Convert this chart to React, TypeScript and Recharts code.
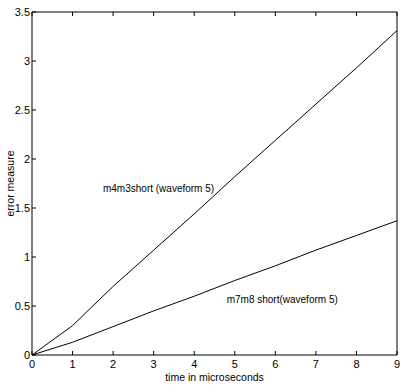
import React from 'react';
import { LineChart, Line, XAxis, YAxis, ReferenceDot } from 'recharts';

const times = [0, 1, 2, 3, 4, 5, 6, 7, 8, 9];
const m4m3short = [0, 0.3, 0.7, 1.07, 1.44, 1.82, 2.19, 2.56, 2.93, 3.31];
const m7m8short = [0, 0.13, 0.29, 0.45, 0.6, 0.76, 0.91, 1.07, 1.22, 1.37];
const xTicks = [0, 1, 2, 3, 4, 5, 6, 7, 8, 9];
const yTicks = [0, 0.5, 1, 1.5, 2, 2.5, 3, 3.5];
const annotations = [
  { x: 1.75, y: 1.7, text: 'm4m3short (waveform 5)' },
  { x: 4.8, y: 0.57, text: 'm7m8 short(waveform 5)' },
];

const data = times.map((t, i) => ({ t, a: m4m3short[i], b: m7m8short[i] }));

const FONT = 'Liberation Sans, Arial, Helvetica, sans-serif';
const tickStyle = { fontSize: 11, fill: '#000', fontFamily: FONT };

const AnnotationLabel = (props: any) => {
  const { viewBox, value } = props;
  const cx = viewBox.x + (viewBox.width || 0) / 2;
  const cy = viewBox.y + (viewBox.height || 0) / 2;
  return (
    <text x={cx} y={cy} dy="0.35em" textAnchor="start" fontSize={10} fontFamily={FONT} fill="#000">
      {value}
    </text>
  );
};

export default function App() {
  return (
    <div style={{ position: 'absolute', left: 0, top: 0, background: '#fff' }}>
      <LineChart width={417} height={392} data={data} margin={{ top: 2, right: 10, bottom: 0, left: 0 }}>
        <XAxis
          dataKey="t"
          type="number"
          domain={[0, 9]}
          ticks={xTicks}
          tickSize={-4}
          tickMargin={9}
          height={37}
          stroke="#000"
          tick={tickStyle}
          axisLine={{ stroke: '#000' }}
          tickLine={{ stroke: '#000' }}
          label={{ value: 'time in microseconds', position: 'insideBottom', offset: 11, style: { fontSize: 10.5, fill: '#000', fontFamily: FONT } }}
        />
        <XAxis
          xAxisId="top"
          orientation="top"
          dataKey="t"
          type="number"
          domain={[0, 9]}
          ticks={xTicks}
          tickSize={-4}
          height={10}
          stroke="#000"
          tickFormatter={() => ''}
          axisLine={{ stroke: '#000' }}
          tickLine={{ stroke: '#000' }}
        />
        <YAxis
          type="number"
          domain={[0, 3.5]}
          ticks={yTicks}
          tickSize={-4}
          tickMargin={6}
          width={32}
          stroke="#000"
          tick={tickStyle}
          axisLine={{ stroke: '#000' }}
          tickLine={{ stroke: '#000' }}
          label={{ value: 'error measure', angle: -90, position: 'insideLeft', offset: 10, style: { textAnchor: 'middle', fontSize: 10.5, fill: '#000', fontFamily: FONT } }}
        />
        <YAxis
          yAxisId="right"
          orientation="right"
          type="number"
          domain={[0, 3.5]}
          ticks={yTicks}
          tickSize={-4}
          width={10}
          stroke="#000"
          tickFormatter={() => ''}
          axisLine={{ stroke: '#000' }}
          tickLine={{ stroke: '#000' }}
        />
        <Line type="linear" dataKey="a" stroke="#000" strokeWidth={1} dot={false} isAnimationActive={false} />
        <Line type="linear" dataKey="b" stroke="#000" strokeWidth={1} dot={false} isAnimationActive={false} />
        {annotations.map((a) => (
          <ReferenceDot
            key={a.text}
            x={a.x}
            y={a.y}
            r={0}
            fill="none"
            stroke="none"
            label={<AnnotationLabel value={a.text} />}
          />
        ))}
      </LineChart>
    </div>
  );
}
